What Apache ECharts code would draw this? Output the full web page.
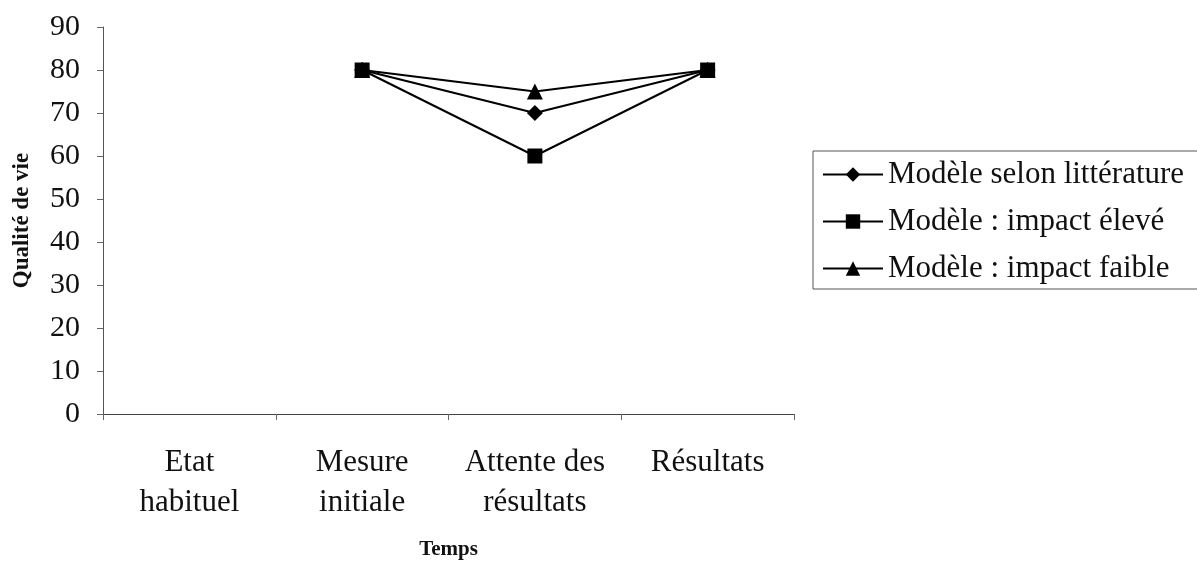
<!DOCTYPE html>
<html>
<head>
<meta charset="utf-8">
<script src="https://cdn.jsdelivr.net/npm/echarts@6/dist/echarts.min.js"></script>
<style>
  html, body { margin: 0; padding: 0; background: #fff; }
  #main { width: 1197px; height: 563px; }
</style>
</head>
<body>
<div id="main"></div>
<script>
var categories = ['Etat\nhabituel', 'Mesure\ninitiale', 'Attente des\nrésultats', 'Résultats'];
var litterature = [null, 80, 70, 80];   // Modèle selon littérature
var impactEleve = [null, 80, 60, 80];   // Modèle : impact élevé
var impactFaible = [null, 80, 75, 80];  // Modèle : impact faible
var yTicks = { min: 0, max: 90, interval: 10 };

var serif = 'Liberation Serif, Times New Roman, serif';
var myChart = echarts.init(document.getElementById('main'));
var option = {
  animation: false,
  grid: { left: 103, right: 403, top: 27, bottom: 149, outerBoundsMode: 'none', containLabel: false },
  legend: {
    orient: 'vertical',
    left: 813,
    top: 151,
    itemWidth: 60,
    itemHeight: 18,
    itemGap: 16,
    padding: [8, 20, 5, 9],
    borderColor: '#555',
    borderWidth: 1,
    textStyle: { fontFamily: serif, fontSize: 31, color: '#111' },
    data: ['Modèle selon littérature', 'Modèle : impact élevé', 'Modèle : impact faible']
  },
  xAxis: {
    type: 'category',
    data: categories,
    boundaryGap: true,
    name: 'Temps',
    nameLocation: 'middle',
    nameGap: 125,
    nameTextStyle: { fontFamily: serif, fontSize: 21, fontWeight: 'bold', color: '#111' },
    axisLine: { lineStyle: { color: '#444', width: 1 } },
    axisTick: { show: true, interval: 0, length: 6, lineStyle: { color: '#666' } },
    axisLabel: { interval: 0, fontFamily: serif, fontSize: 31, color: '#111', margin: 29, lineHeight: 40 },
    splitLine: { show: false }
  },
  yAxis: {
    type: 'value',
    min: yTicks.min,
    max: yTicks.max,
    interval: yTicks.interval,
    name: 'Qualité de vie',
    nameLocation: 'middle',
    nameRotate: 90,
    nameGap: 69,
    nameTextStyle: { fontFamily: serif, fontSize: 23, fontWeight: 'bold', color: '#111' },
    axisLine: { show: true, lineStyle: { color: '#555', width: 1 } },
    axisTick: { show: true, length: 6, lineStyle: { color: '#666' } },
    axisLabel: { fontFamily: serif, fontSize: 30, color: '#111', margin: 23 },
    splitLine: { show: false }
  },
  series: [
    {
      name: 'Modèle selon littérature',
      type: 'line',
      data: litterature,
      symbol: 'diamond',
      symbolSize: 16,
      itemStyle: { color: '#000' },
      lineStyle: { color: '#000', width: 2 },
      z: 2
    },
    {
      name: 'Modèle : impact élevé',
      type: 'line',
      data: impactEleve,
      symbol: 'rect',
      symbolSize: 15,
      itemStyle: { color: '#000' },
      lineStyle: { color: '#000', width: 2 },
      z: 4
    },
    {
      name: 'Modèle : impact faible',
      type: 'line',
      data: impactFaible,
      symbol: 'triangle',
      symbolSize: 16,
      itemStyle: { color: '#000' },
      lineStyle: { color: '#000', width: 2 },
      z: 3
    }
  ]
};
myChart.setOption(option);
</script>
</body>
</html>
